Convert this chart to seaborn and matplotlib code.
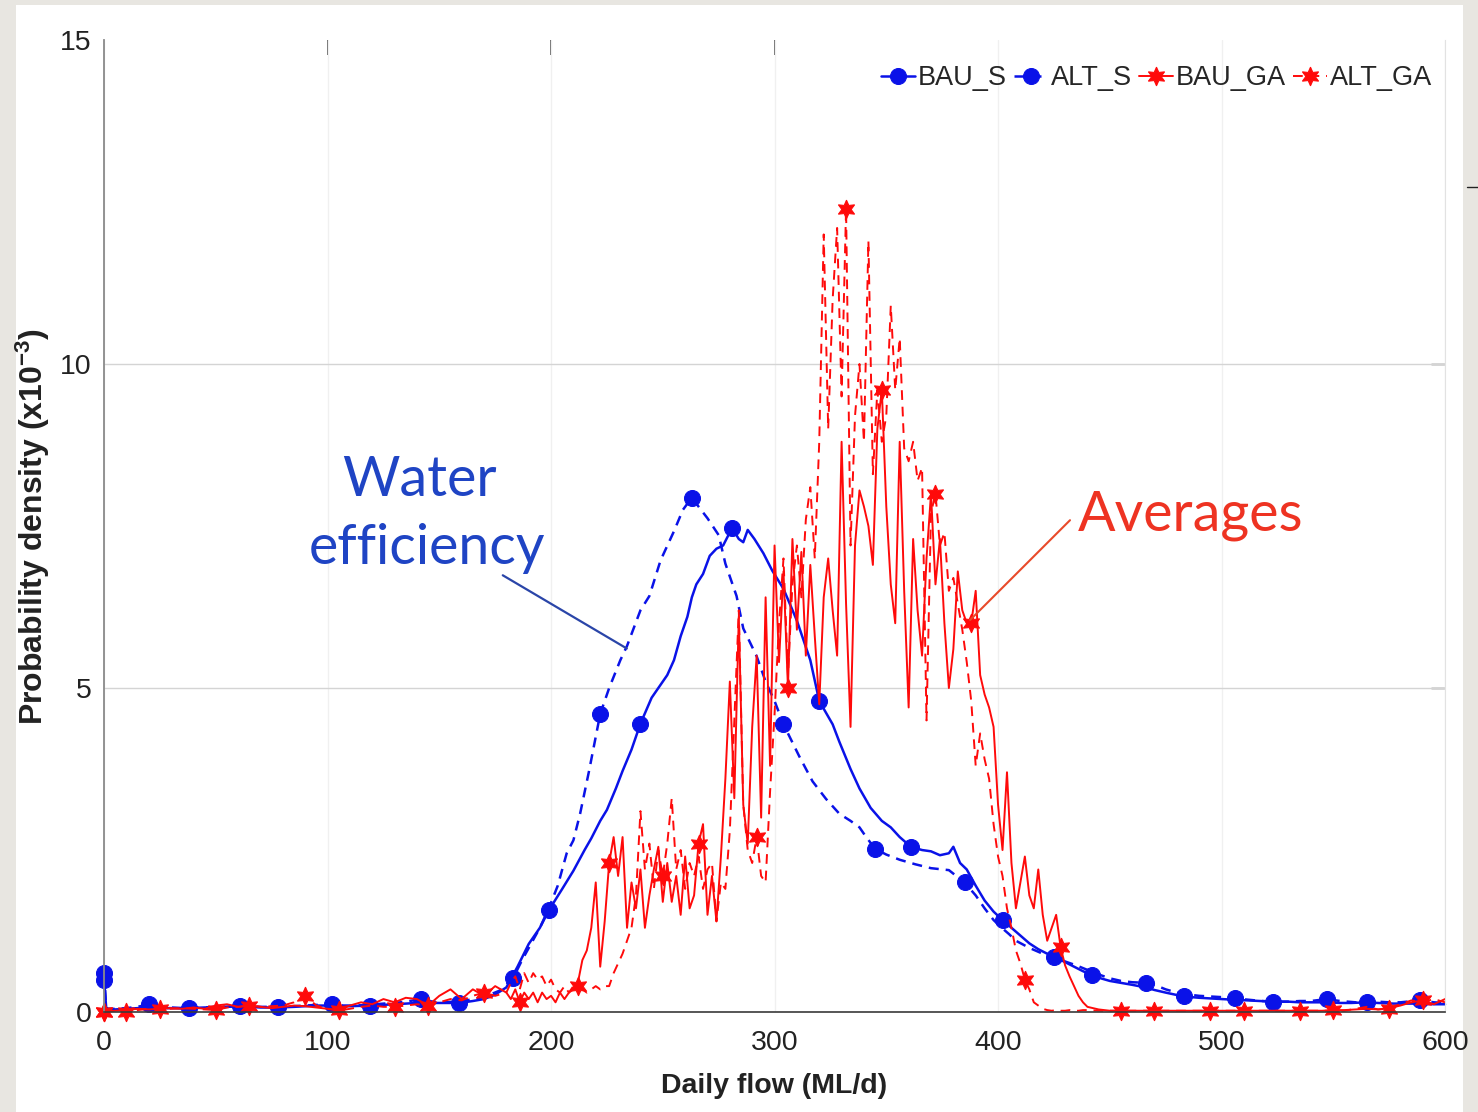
import numpy as np
import matplotlib.pyplot as plt
import seaborn as sns
from matplotlib.lines import Line2D
from matplotlib.patches import Rectangle

# ---- values: probability density (x1e-3) vs daily flow (ML/d) ----
# BAU_S (solid blue)
bau_s_x = [0, 1, 5, 10, 15, 20, 25, 30, 38, 45,
           50, 55, 60, 65, 70, 78, 85, 90, 95, 100,
           105, 110, 119, 125, 130, 135, 140, 145, 150, 159,
           165, 170, 175, 180, 185, 190, 195, 199, 205, 210,
           215, 218, 222, 225, 229, 232, 236, 240, 245, 249,
           252, 255, 258, 261, 263, 265, 268, 271, 274, 277,
           281, 284, 286, 288, 291, 295, 299, 304, 310, 316,
           320, 326, 329, 334, 338, 343, 348, 352, 356, 361,
           366, 370, 374, 378, 380, 383, 386, 390, 394, 398,
           402, 406, 410, 414, 418, 422, 426, 430, 434, 438,
           442, 446, 450, 455, 460, 466, 470, 475, 483, 490,
           495, 500, 506, 512, 517, 523, 530, 535, 540, 547,
           553, 558, 565, 570, 577, 583, 589, 595, 600]
bau_s_y = [0.5, 0.05, 0.04, 0.05, 0.06, 0.07, 0.06, 0.06, 0.06, 0.07,
           0.07, 0.08, 0.09, 0.08, 0.07, 0.07, 0.08, 0.09, 0.1, 0.1,
           0.09, 0.09, 0.1, 0.11, 0.12, 0.13, 0.14, 0.14, 0.14, 0.14,
           0.17, 0.2, 0.27, 0.38, 0.7, 1.05, 1.3, 1.57, 1.9, 2.18,
           2.5, 2.68, 2.95, 3.12, 3.45, 3.72, 4.05, 4.45, 4.85, 5.05,
           5.2, 5.43, 5.8, 6.1, 6.4, 6.6, 6.76, 7.04, 7.15, 7.2,
           7.47, 7.3, 7.25, 7.44, 7.3, 7.08, 6.81, 6.53, 6.04, 5.43,
           4.8, 4.44, 4.17, 3.75, 3.45, 3.15, 2.95, 2.85, 2.7, 2.55,
           2.5, 2.48, 2.42, 2.45, 2.55, 2.3, 2.2, 1.95, 1.72, 1.55,
           1.42, 1.3, 1.18, 1.06, 0.97, 0.9, 0.84, 0.77, 0.7, 0.63,
           0.57, 0.52, 0.48, 0.45, 0.42, 0.38, 0.34, 0.3, 0.24, 0.22,
           0.21, 0.2, 0.19, 0.18, 0.17, 0.16, 0.16, 0.15, 0.15, 0.15,
           0.14, 0.14, 0.15, 0.14, 0.13, 0.13, 0.13, 0.12, 0.12]
bau_s_marks = [0, 38, 78, 119, 159, 199, 240, 281, 320, 361, 402, 442, 483, 523, 565]

# ALT_S (dashed blue)
alt_s_x = [0, 1, 5, 10, 15, 20, 25, 30, 35, 40,
           45, 50, 55, 61, 65, 70, 75, 80, 85, 90,
           95, 102, 107, 112, 118, 125, 130, 135, 142, 147,
           152, 157, 162, 167, 172, 177, 183, 187, 191, 195,
           199, 203, 207, 210, 213, 217, 222, 226, 231, 234,
           240, 244, 249, 255, 259, 263, 266, 270, 275, 278,
           283, 286, 292, 296, 300, 304, 311, 317, 323, 329,
           334, 338, 341, 345, 350, 356, 363, 370, 378, 385,
           390, 394, 398, 401, 405, 408, 414, 420, 425, 430,
           435, 440, 445, 450, 455, 460, 466, 470, 475, 480,
           485, 490, 495, 500, 506, 512, 518, 525, 530, 535,
           540, 547, 553, 560, 565, 570, 575, 580, 589, 595,
           600]
alt_s_y = [0.6, 0.05, 0.05, 0.06, 0.08, 0.12, 0.09, 0.07, 0.06, 0.06,
           0.07, 0.08, 0.08, 0.1, 0.09, 0.08, 0.08, 0.08, 0.09, 0.1,
           0.11, 0.13, 0.1, 0.1, 0.11, 0.13, 0.14, 0.16, 0.2, 0.16,
           0.15, 0.16, 0.18, 0.21, 0.26, 0.33, 0.52, 0.8, 1.05, 1.3,
           1.6, 1.95, 2.45, 2.65, 3.06, 3.72, 4.6, 5.0, 5.43, 5.65,
           6.2, 6.42, 6.97, 7.42, 7.75, 7.94, 7.8, 7.62, 7.36, 6.92,
           6.42, 5.92, 5.49, 5.1, 4.8, 4.44, 3.95, 3.56, 3.29, 3.06,
           2.95, 2.85, 2.7, 2.52, 2.43, 2.35, 2.28, 2.22, 2.19, 2.0,
           1.8, 1.6, 1.42, 1.32, 1.2, 1.1, 0.99, 0.9, 0.85, 0.78,
           0.72, 0.65, 0.58, 0.52, 0.48, 0.46, 0.45, 0.42, 0.35, 0.3,
           0.27, 0.25, 0.24, 0.23, 0.21, 0.19, 0.17, 0.16, 0.16, 0.17,
           0.17, 0.2, 0.17, 0.15, 0.15, 0.16, 0.15, 0.15, 0.18, 0.15,
           0.14]
alt_s_marks = [0, 20, 61, 102, 142, 183, 222, 263, 304, 345, 385, 425, 466, 506, 547, 589]

# GA series share one flow grid: 0-175 every 5, 180-438 every 2, 440-600 every 5
ga_x = np.concatenate([np.arange(0, 180, 5), np.arange(180, 440, 2), np.arange(440, 601, 5)])

bau_ga_low = [0.0, 0.02, 0.03, 0.05, 0.04, 0.05, 0.06, 0.05, 0.07, 0.05,
              0.1, 0.12, 0.08, 0.1, 0.08, 0.06, 0.08, 0.1, 0.09, 0.07,
              0.05, 0.03, 0.1, 0.15, 0.12, 0.2, 0.15, 0.22, 0.2, 0.1,
              0.25, 0.35, 0.2, 0.35, 0.25, 0.4]
bau_ga_mid = [0.3, 0.2, 0.35, 0.15, 0.3, 0.2, 0.3, 0.15, 0.3, 0.2,
              0.25, 0.15, 0.3, 0.2, 0.3, 0.35, 0.45, 0.8, 0.95, 1.3,
              2.0, 0.7, 1.4, 2.3, 2.7, 2.1, 2.7, 1.3, 2.0, 1.6,
              2.2, 1.3, 1.8, 2.2, 2.55, 1.7, 2.3, 1.7, 2.1, 1.5,
              2.4, 1.6, 1.8, 2.6, 2.9, 1.5, 2.1, 1.4, 2.4, 3.6,
              5.1, 3.3, 6.1, 3.2, 2.6, 4.4, 5.5, 3.0, 6.4, 3.8,
              7.2, 5.4, 6.8, 5.0, 7.3, 5.9, 7.1, 5.5, 6.9, 5.8,
              4.75, 6.4, 7.0, 6.2, 5.5, 8.8, 6.3, 4.4, 7.2, 8.05,
              7.8, 7.5, 6.9, 9.0, 9.6, 7.8, 6.6, 6.0, 8.8, 6.5,
              4.7, 7.3, 6.2, 5.5, 7.0, 8.0, 6.6, 7.3, 6.0, 5.0,
              5.6, 6.8, 6.2, 6.0, 6.0, 6.5, 5.2, 4.9, 4.7, 4.4,
              3.2, 2.5, 3.7, 2.3, 1.6, 2.0, 2.4, 1.8, 1.6, 2.2,
              1.5, 1.1, 1.3, 1.5, 1.0, 0.72, 0.55, 0.4, 0.25, 0.15]
bau_ga_high = [0.08, 0.04, 0.02, 0.02, 0.02, 0.02, 0.02, 0.02, 0.02, 0.02,
               0.02, 0.02, 0.02, 0.02, 0.02, 0.02, 0.02, 0.02, 0.02, 0.02,
               0.02, 0.02, 0.03, 0.03, 0.04, 0.05, 0.04, 0.06, 0.1, 0.15,
               0.18, 0.12, 0.2]
bau_ga_marks = [0, 25, 65, 105, 145, 186, 226, 266, 306, 348, 388, 428, 470, 510, 550, 590]

alt_ga_low = [0.0, 0.02, 0.0, 0.03, 0.05, 0.04, 0.05, 0.06, 0.05, 0.04,
              0.03, 0.07, 0.08, 0.1, 0.08, 0.09, 0.1, 0.15, 0.25, 0.1,
              0.05, 0.02, 0.05, 0.08, 0.1, 0.08, 0.08, 0.1, 0.12, 0.1,
              0.15, 0.2, 0.18, 0.25, 0.3, 0.25]
alt_ga_mid = [0.3, 0.45, 0.55, 0.35, 0.6, 0.45, 0.6, 0.5, 0.55, 0.4,
              0.5, 0.35, 0.3, 0.4, 0.3, 0.4, 0.4, 0.35, 0.3, 0.35,
              0.4, 0.35, 0.4, 0.4, 0.6, 0.75, 0.9, 1.1, 1.3, 1.8,
              3.1, 2.2, 2.6, 1.9, 2.5, 2.1, 2.6, 3.3, 2.2, 2.5,
              1.9, 2.3, 2.1, 2.4, 1.9, 2.2, 2.3, 1.4, 2.0, 1.9,
              2.8, 4.5, 6.2, 3.2, 2.5, 2.3, 2.7, 2.1, 2.0, 3.4,
              4.6, 6.0, 7.0, 5.2, 6.6, 7.2, 6.4, 7.6, 8.1, 7.0,
              8.8, 12.0, 9.0, 11.0, 12.1, 9.5, 12.4, 7.2, 9.2, 10.0,
              8.8, 11.9, 8.3, 9.6, 8.8, 9.2, 10.9, 9.6, 10.4, 8.7,
              8.5, 8.8, 8.2, 8.4, 4.5, 7.7, 8.0, 7.2, 7.4, 6.5,
              6.7, 6.3, 5.9, 5.4, 4.8, 3.8, 4.3, 3.9, 3.6, 2.9,
              2.4, 2.1, 1.6, 1.3, 0.95, 0.75, 0.5, 0.35, 0.15, 0.1,
              0.05, 0.03, 0.02, 0.03, 0.02, 0.02, 0.03, 0.02, 0.02, 0.03]
alt_ga_high = [0.03, 0.02, 0.02, 0.02, 0.02, 0.02, 0.02, 0.02, 0.02, 0.02,
               0.02, 0.02, 0.02, 0.02, 0.02, 0.02, 0.02, 0.02, 0.02, 0.02,
               0.02, 0.02, 0.02, 0.02, 0.05, 0.08, 0.04, 0.05, 0.12, 0.18,
               0.15, 0.2, 0.15]
alt_ga_marks = [0, 10, 50, 90, 130, 170, 212, 250, 292, 332, 372, 412, 455, 495, 535, 575]

bau_ga_y = bau_ga_low + bau_ga_mid + bau_ga_high
alt_ga_y = alt_ga_low + alt_ga_mid + alt_ga_high

BLUE = '#0a12e8'
RED = '#ff0a0a'


def mark_idx(xs, at):
    # indices of the grid points that carry a marker
    return [i for i, v in enumerate(xs) if v in at]


sns.set_style('white')
plt.rcParams['font.family'] = ['Liberation Sans', 'DejaVu Sans']
plt.rcParams['mathtext.default'] = 'regular'

fig = plt.figure(figsize=(14.78, 11.12), dpi=100, facecolor='#e8e6e1')
fig.patches.append(Rectangle((16 / 1478, 0), (1463 - 16) / 1478, 1 - 5 / 1112,
                             transform=fig.transFigure, facecolor='white',
                             edgecolor='none', zorder=-5))
fig.add_artist(Line2D([1467 / 1478, 1.0], [1 - 187 / 1112] * 2, color='#222', lw=1))
ax = fig.add_axes([0.0704, 0.0899, 0.9073, 0.8741])
ax.set_facecolor('white')

sns.lineplot(x=bau_s_x, y=bau_s_y, ax=ax, color=BLUE, lw=1.8, marker='o', ms=11.5,
             mec=BLUE, mfc=BLUE, markevery=mark_idx(bau_s_x, bau_s_marks),
             label='BAU_S', errorbar=None, sort=False, clip_on=False)
sns.lineplot(x=alt_s_x, y=alt_s_y, ax=ax, color=BLUE, lw=1.8, ls=(0, (4, 2.8)),
             marker='o', ms=11.5, mec=BLUE, mfc=BLUE,
             markevery=mark_idx(alt_s_x, alt_s_marks),
             label='ALT_S', errorbar=None, sort=False, clip_on=False)
sns.lineplot(x=ga_x, y=bau_ga_y, ax=ax, color=RED, lw=1.4, marker=(6, 1, 0), ms=13.5,
             mec=RED, mfc=RED, markevery=mark_idx(ga_x, bau_ga_marks),
             label='BAU_GA', errorbar=None, sort=False, clip_on=False)
sns.lineplot(x=ga_x, y=alt_ga_y, ax=ax, color=RED, lw=1.4, ls=(0, (5, 3.5)),
             marker=(6, 1, 0), ms=13.5, mec=RED, mfc=RED,
             markevery=mark_idx(ga_x, alt_ga_marks),
             label='ALT_GA', errorbar=None, sort=False, clip_on=False)

ax.set_xlim(0, 600)
ax.set_ylim(0, 15)
ax.set_xticks(range(0, 601, 100))
ax.set_yticks([0, 5, 10, 15])
ax.tick_params(axis='x', direction='in', length=9, width=1, color='#333',
               labelsize=20.5, pad=13, labelcolor='#222')
ax.tick_params(axis='y', length=0, labelsize=20.5, pad=9, labelcolor='#222')

ax.grid(axis='y', color='#d4d4d4', lw=1)
ax.grid(axis='x', color='#f0f0f0', lw=1)
ax.yaxis.get_gridlines()[-1].set_visible(False)
ax.set_axisbelow(True)

ax.spines['top'].set_visible(False)
ax.spines['left'].set_color('#8a8a8a')
ax.spines['left'].set_linewidth(1.3)
ax.spines['bottom'].set_color('#3a3a3a')
ax.spines['bottom'].set_linewidth(1.2)
ax.spines['right'].set_color('#e2e2e2')

top = ax.secondary_xaxis('top')
top.set_xticks([100, 200, 300])
top.tick_params(direction='in', length=11, width=1.2, color='#444', labeltop=False)
top.spines['top'].set_visible(False)
right = ax.secondary_yaxis('right')
right.set_yticks([5, 10])
right.tick_params(direction='in', length=10, width=1, color='#333', labelright=False)
right.spines['right'].set_visible(False)

ax.set_xlabel('Daily flow (ML/d)', fontsize=20.5, fontweight='bold', labelpad=12, color='#222')
ax.set_ylabel('Probability density (x10$^{-3}$)', fontsize=23, fontweight='bold',
              labelpad=6, color='#222')

# callouts
txt_font = ['Lato', 'DejaVu Sans']
ax.text(141, 8.21, 'Water', color='#1f44c4', fontsize=40, family=txt_font,
        ha='center', va='center')
ax.text(144.5, 7.16, 'efficiency', color='#1f44c4', fontsize=40, family=txt_font,
        ha='center', va='center')
ax.plot([178.4, 233.9], [6.74, 5.61], color='#2a45a8', lw=1.6)
ax.text(435.8, 7.67, 'Averages', color='#ee3322', fontsize=40, family=txt_font,
        ha='left', va='center')
ax.plot([432.2, 387.5], [7.59, 6.05], color='#e84a2a', lw=1.5)

ax.legend(loc='upper right', bbox_to_anchor=(0.9985, 0.985), ncol=4, frameon=False,
          fontsize=19.5, handlelength=1.25, handletextpad=0.12, columnspacing=0.25,
          borderaxespad=0)

fig.savefig('out.png', dpi=100, facecolor=fig.get_facecolor())
